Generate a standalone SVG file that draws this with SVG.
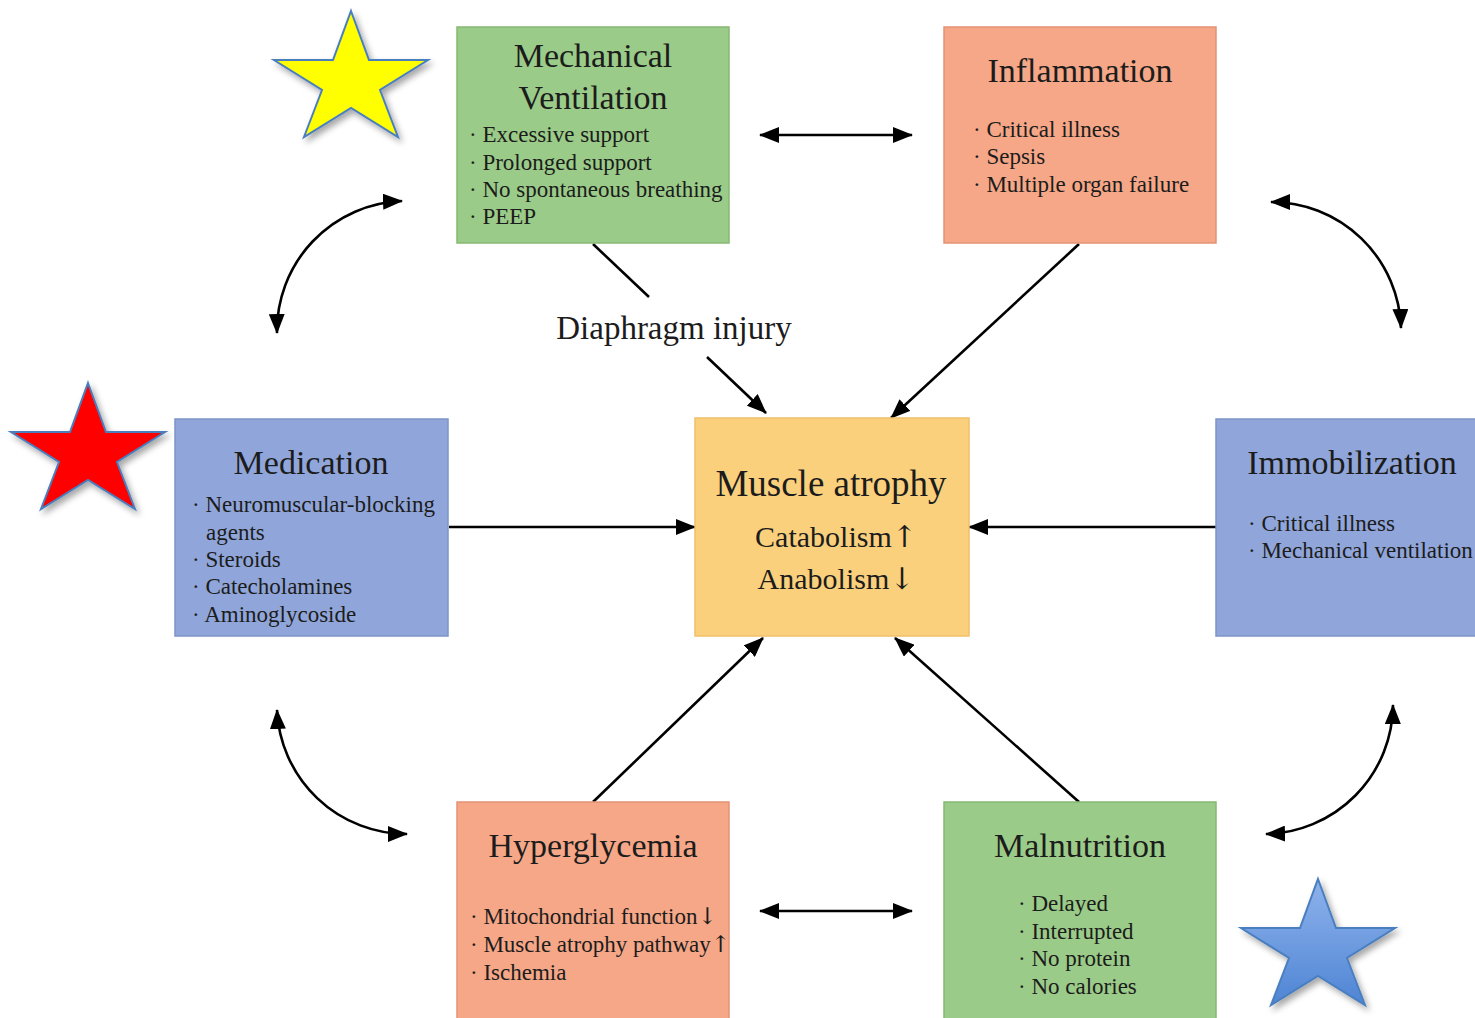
<svg xmlns="http://www.w3.org/2000/svg" width="1475" height="1018" viewBox="0 0 1475 1018">
<style>
.box{stroke-width:1.5}
.green{fill:#9bcb88;stroke:#86b873}
.salmon{fill:#f5a787;stroke:#e39373}
.blue{fill:#90a6da;stroke:#7e94c8}
.yellow{fill:#fbd07c;stroke:#f0c068}
text{font-family:"Liberation Serif","Times New Roman",serif;fill:#1c1c1c}
.ar{font-family:"DejaVu Serif","Liberation Serif",serif;fill:#1c1c1c}
.title{font-size:34px;text-anchor:middle}
.item{font-size:23px}
.sub{font-size:30px;text-anchor:middle}
.conn{fill:none;stroke:#000;stroke-width:2.6}
</style>
<defs>
<marker id="ah" markerUnits="userSpaceOnUse" markerWidth="20" markerHeight="16" viewBox="0 0 20 16" refX="19" refY="8" orient="auto-start-reverse">
<path d="M0,0 L20,8 L0,16 Z" fill="#000"/>
</marker>
<filter id="sh" x="-20%" y="-20%" width="150%" height="150%">
<feDropShadow dx="3" dy="4" stdDeviation="3" flood-color="#000" flood-opacity="0.35"/>
</filter>
<linearGradient id="bluegrad" x1="0" y1="0" x2="0" y2="1">
<stop offset="0" stop-color="#8fb3ec"/>
<stop offset="1" stop-color="#4f85d4"/>
</linearGradient>
<polygon id="star" points="0,0 18,49 77,49 29,79 47,126 0,97 -47,126 -29,79 -77,49 -18,49"/>
</defs>
<rect width="1475" height="1018" fill="#fff"/>

<g id="star-yellow" filter="url(#sh)">
<use href="#star" x="351" y="11" fill="#ffff00" stroke="#4a7ebf" stroke-width="2"/>
</g>
<g id="star-red" filter="url(#sh)">
<use href="#star" x="88" y="383" fill="#ff0000" stroke="#4a7ebf" stroke-width="2"/>
</g>
<g id="star-blue" filter="url(#sh)">
<use href="#star" x="1318" y="879" fill="url(#bluegrad)" stroke="#4a7ebf" stroke-width="2"/>
</g>

<g id="connectors">
<line class="conn" x1="760" y1="135" x2="912" y2="135" marker-start="url(#ah)" marker-end="url(#ah)"/>
<line class="conn" x1="760" y1="911" x2="912" y2="911" marker-start="url(#ah)" marker-end="url(#ah)"/>
<line class="conn" x1="593" y1="244" x2="649" y2="297"/>
<line class="conn" x1="707" y1="357" x2="766" y2="413" marker-end="url(#ah)"/>
<line class="conn" x1="1079" y1="244" x2="891" y2="418" marker-end="url(#ah)"/>
<line class="conn" x1="449" y1="527" x2="695" y2="527" marker-end="url(#ah)"/>
<line class="conn" x1="1216" y1="527" x2="969" y2="527" marker-end="url(#ah)"/>
<line class="conn" x1="593" y1="802" x2="763" y2="638" marker-end="url(#ah)"/>
<line class="conn" x1="1079" y1="802" x2="895" y2="638" marker-end="url(#ah)"/>
<path class="conn" d="M277,333 A130,130 0 0 1 402,201" marker-start="url(#ah)" marker-end="url(#ah)"/>
<path class="conn" d="M1271,202 A130,130 0 0 1 1401,328" marker-start="url(#ah)" marker-end="url(#ah)"/>
<path class="conn" d="M277,710 A130,130 0 0 0 407,834" marker-start="url(#ah)" marker-end="url(#ah)"/>
<path class="conn" d="M1393,705 A130,130 0 0 1 1266,834" marker-start="url(#ah)" marker-end="url(#ah)"/>
</g>

<g id="mechanical-ventilation">
<rect class="box green" x="457" y="27" width="272" height="216"/>
<text class="title" x="593" y="67">Mechanical</text>
<text class="title" x="593" y="109">Ventilation</text>
<text class="item" x="469" y="142">· Excessive support</text>
<text class="item" x="469" y="170">· Prolonged support</text>
<text class="item" x="469" y="197">· No spontaneous breathing</text>
<text class="item" x="469" y="224">· PEEP</text>
</g>

<g id="inflammation">
<rect class="box salmon" x="944" y="27" width="272" height="216"/>
<text class="title" x="1080" y="82">Inflammation</text>
<text class="item" x="973" y="137">· Critical illness</text>
<text class="item" x="973" y="164">· Sepsis</text>
<text class="item" x="973" y="192">· Multiple organ failure</text>
</g>

<g id="diaphragm-injury">
<text x="674" y="339" style="font-size:33px;text-anchor:middle">Diaphragm injury</text>
</g>

<g id="medication">
<rect class="box blue" x="175" y="419" width="273" height="217"/>
<text class="title" x="311" y="474">Medication</text>
<text class="item" x="192" y="512">· Neuromuscular-blocking</text>
<text class="item" x="206" y="540">agents</text>
<text class="item" x="192" y="567">· Steroids</text>
<text class="item" x="192" y="594">· Catecholamines</text>
<text class="item" x="192" y="622">· Aminoglycoside</text>
</g>

<g id="muscle-atrophy">
<rect class="box yellow" x="695" y="418" width="274" height="218"/>
<text x="831" y="496" style="font-size:37px;text-anchor:middle">Muscle atrophy</text>
<text class="sub" x="836" y="547">Catabolism<tspan class="ar">↑</tspan></text>
<text class="sub" x="836" y="589">Anabolism<tspan class="ar">↓</tspan></text>
</g>

<g id="immobilization">
<rect class="box blue" x="1216" y="419" width="262" height="217"/>
<text class="title" x="1352" y="474">Immobilization</text>
<text class="item" x="1248" y="531">· Critical illness</text>
<text class="item" x="1248" y="558">· Mechanical ventilation</text>
</g>

<g id="hyperglycemia">
<rect class="box salmon" x="457" y="802" width="272" height="220"/>
<text class="title" x="593" y="857">Hyperglycemia</text>
<text class="item" x="470" y="924">· Mitochondrial function<tspan class="ar">↓</tspan></text>
<text class="item" x="470" y="952">· Muscle atrophy pathway<tspan class="ar">↑</tspan></text>
<text class="item" x="470" y="980">· Ischemia</text>
</g>

<g id="malnutrition">
<rect class="box green" x="944" y="802" width="272" height="220"/>
<text class="title" x="1080" y="857">Malnutrition</text>
<text class="item" x="1018" y="911">· Delayed</text>
<text class="item" x="1018" y="939">· Interrupted</text>
<text class="item" x="1018" y="966">· No protein</text>
<text class="item" x="1018" y="994">· No calories</text>
</g>
</svg>
